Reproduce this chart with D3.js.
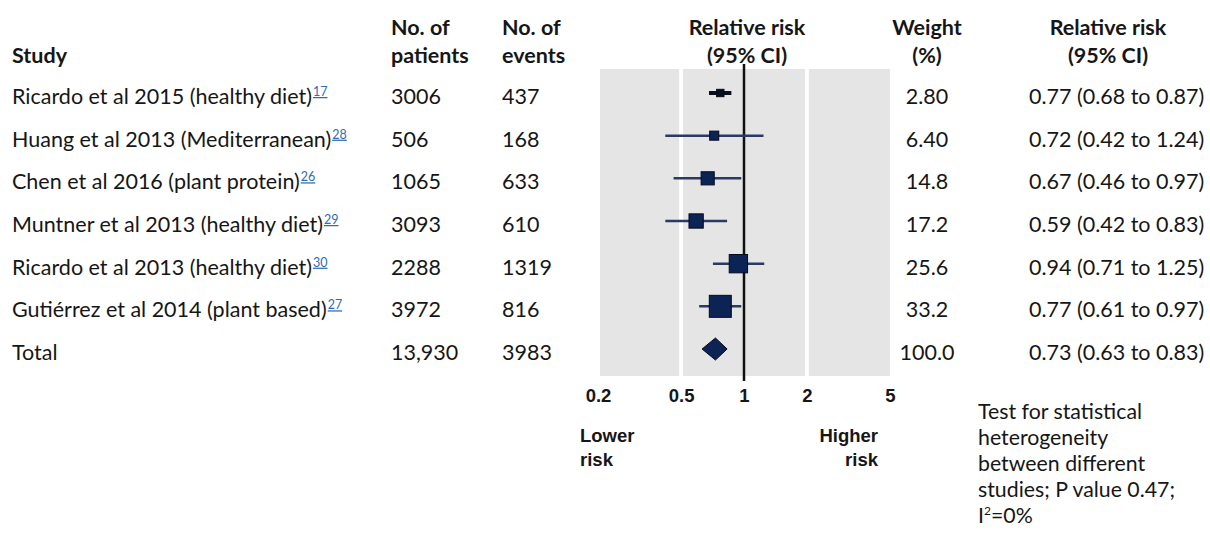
<!DOCTYPE html>
<html>
<head>
<meta charset="utf-8">
<script src="https://cdn.jsdelivr.net/npm/d3@7"></script>
<style>
  html, body { margin: 0; padding: 0; background: #fff; }
  svg { display: block; }
  .t  { font-family: Lato, "Open Sans", sans-serif; font-size: 21.5px; fill: #161616; }
  .h  { font-weight: 700; font-size: 21.5px; }
  .note { font-size: 21.3px; }
  .ax { font-family: "Liberation Sans", Arial, sans-serif; font-size: 18.5px; font-weight: 700; fill: #161616; }
  .ref { font-size: 12.5px; fill: #2f6cb3; text-decoration: underline; }
</style>
</head>
<body>
<svg id="chart" width="1210" height="533"></svg>
<script>
// Studies in the meta-analysis
const studies  = [
  "Ricardo et al 2015 (healthy diet)",
  "Huang et al 2013 (Mediterranean)",
  "Chen et al 2016 (plant protein)",
  "Muntner et al 2013 (healthy diet)",
  "Ricardo et al 2013 (healthy diet)",
  "Gutiérrez et al 2014 (plant based)"
];
const refNumbers = ["17", "28", "26", "29", "30", "27"];
const patients   = [3006, 506, 1065, 3093, 2288, 3972];
const events     = [437, 168, 633, 610, 1319, 816];
const riskRatio  = [0.77, 0.72, 0.67, 0.59, 0.94, 0.77];
const ciLower    = [0.68, 0.42, 0.46, 0.42, 0.71, 0.61];
const ciUpper    = [0.87, 1.24, 0.97, 0.83, 1.25, 0.97];
const weights    = [2.80, 6.40, 14.8, 17.2, 25.6, 33.2];

// Pooled estimate
const totalLabel    = "Total";
const totalPatients = 13930;
const totalEvents   = 3983;
const totalRR       = 0.73;
const totalLower    = 0.63;
const totalUpper    = 0.83;
const totalWeight   = 100.0;

// Axis
const tickValues = [0.2, 0.5, 1, 2, 5];
const heterogeneityNote = [
  "Test for statistical",
  "heterogeneity",
  "between different",
  "studies; P value 0.47;"
];

const svg = d3.select("#chart");

const x = d3.scaleLog().domain([0.2, 5]).range([598, 890]);
const y = d3.scalePoint().domain(d3.range(studies.length + 1)).range([93, 349]);
const box = d3.scaleLinear().domain([0, d3.max(weights)]).range([6, 22]);

const fmtN   = d3.format(",");
const fmtW   = d3.format(".3r");
const fmtRR  = d3.format(".2f");
const rrText = (r, l, u) => `${fmtRR(r)} (${fmtRR(l)} to ${fmtRR(u)})`;

// Column positions
const colStudy = 12, colPatients = 391, colEvents = 502, colWeight = 927, colRR = 1029;

// ---- Column headers
const headers = [
  { x: colStudy,    anchor: "start",  lines: ["", "Study"] },
  { x: colPatients, anchor: "start",  lines: ["No. of", "patients"] },
  { x: colEvents,   anchor: "start",  lines: ["No. of", "events"] },
  { x: 747,         anchor: "middle", lines: ["Relative risk", "(95% CI)"] },
  { x: colWeight,   anchor: "middle", lines: ["Weight", "(%)"] },
  { x: 1108,        anchor: "middle", lines: ["Relative risk", "(95% CI)"] }
];
headers.forEach(h => {
  h.lines.forEach((ln, i) => {
    if (!ln) return;
    svg.append("text").attr("class", "t h")
      .attr("x", h.x).attr("y", 35 + i * 28)
      .attr("text-anchor", h.anchor).text(ln);
  });
});

// ---- Plot panel
const panelTop = 69, panelBottom = 376;
svg.append("rect")
  .attr("x", x(0.2) + 2).attr("y", panelTop)
  .attr("width", x(5) - x(0.2) - 2).attr("height", panelBottom - panelTop)
  .attr("fill", "#e5e5e5");

svg.selectAll("line.grid").data([0.5, 2]).join("line")
  .attr("class", "grid")
  .attr("x1", d => x(d)).attr("x2", d => x(d))
  .attr("y1", panelTop).attr("y2", panelBottom)
  .attr("stroke", "#fff").attr("stroke-width", 4);

// Line of no effect
svg.append("line")
  .attr("x1", x(1)).attr("x2", x(1))
  .attr("y1", 64).attr("y2", 381)
  .attr("stroke", "#111").attr("stroke-width", 2.5);

// ---- Study rows
const rows = studies.map((s, i) => ({
  i, study: s, ref: refNumbers[i], patients: patients[i], events: events[i],
  rr: riskRatio[i], lo: ciLower[i], hi: ciUpper[i], w: weights[i]
}));

const g = svg.selectAll("g.row").data(rows).join("g").attr("class", "row");

g.append("line")
  .attr("x1", d => x(d.lo)).attr("x2", d => x(d.hi))
  .attr("y1", d => y(d.i)).attr("y2", d => y(d.i))
  .attr("stroke", d => d.i === 0 ? "#0a0f1e" : "#2a3a62")
  .attr("stroke-width", d => d.i === 0 ? 4 : 2.5);

g.append("rect")
  .attr("x", d => x(d.rr) - box(d.w) / 2)
  .attr("y", d => y(d.i) - box(d.w) / 2)
  .attr("width", d => box(d.w)).attr("height", d => box(d.w))
  .attr("fill", d => d.i === 0 ? "#0a0f1e" : "#0c2356")
  .attr("stroke", "#050a18").attr("stroke-width", 1);

const textY = d => y(d.i) + 11;

const label = g.append("text").attr("class", "t")
  .attr("x", colStudy).attr("y", textY);
label.append("tspan").text(d => d.study);
label.append("tspan").attr("class", "ref").attr("dx", 1).attr("dy", -8).text(d => d.ref);

g.append("text").attr("class", "t").attr("x", colPatients).attr("y", textY)
  .text(d => d.patients);
g.append("text").attr("class", "t").attr("x", colEvents).attr("y", textY)
  .text(d => d.events);
g.append("text").attr("class", "t").attr("x", colWeight).attr("y", textY)
  .attr("text-anchor", "middle").text(d => fmtW(d.w));
g.append("text").attr("class", "t").attr("x", colRR).attr("y", textY)
  .text(d => rrText(d.rr, d.lo, d.hi));

// ---- Pooled row
const yt = y(studies.length);
svg.append("text").attr("class", "t").attr("x", colStudy).attr("y", yt + 11).text(totalLabel);
svg.append("text").attr("class", "t").attr("x", colPatients).attr("y", yt + 11).text(fmtN(totalPatients));
svg.append("text").attr("class", "t").attr("x", colEvents).attr("y", yt + 11).text(totalEvents);
svg.append("text").attr("class", "t").attr("x", colWeight).attr("y", yt + 11)
  .attr("text-anchor", "middle").text(d3.format(".1f")(totalWeight));
svg.append("text").attr("class", "t").attr("x", colRR).attr("y", yt + 11)
  .text(rrText(totalRR, totalLower, totalUpper));

const dh = 11;
svg.append("polygon")
  .attr("points", [
    [x(totalLower), yt], [x(totalRR), yt - dh],
    [x(totalUpper), yt], [x(totalRR), yt + dh]
  ].map(p => p.join(",")).join(" "))
  .attr("fill", "#0c2356").attr("stroke", "#050a18").attr("stroke-width", 1);

// ---- Axis
const axis = svg.append("g")
  .attr("transform", `translate(0,${panelBottom})`)
  .call(d3.axisBottom(x).tickValues(tickValues).tickFormat(d3.format("")).tickSize(0));
axis.select(".domain").remove();
axis.selectAll("text").attr("class", "ax").attr("y", 26).attr("dy", 0)
  .attr("fill", null).attr("font-size", null).attr("font-family", null);

svg.append("text").attr("class", "ax").attr("x", 580).attr("y", 442).text("Lower");
svg.append("text").attr("class", "ax").attr("x", 580).attr("y", 466).text("risk");
svg.append("text").attr("class", "ax").attr("x", 878).attr("y", 442)
  .attr("text-anchor", "end").text("Higher");
svg.append("text").attr("class", "ax").attr("x", 878).attr("y", 466)
  .attr("text-anchor", "end").text("risk");

// ---- Heterogeneity note
heterogeneityNote.forEach((ln, i) => {
  svg.append("text").attr("class", "t note").attr("x", 978).attr("y", 419 + i * 26).text(ln);
});
const i2 = svg.append("text").attr("class", "t note").attr("x", 978).attr("y", 419 + 4 * 26);
i2.append("tspan").text("I");
i2.append("tspan").attr("font-size", 12).attr("dy", -8).text("2");
i2.append("tspan").attr("dy", 8).text("=0%");
</script>
</body>
</html>
